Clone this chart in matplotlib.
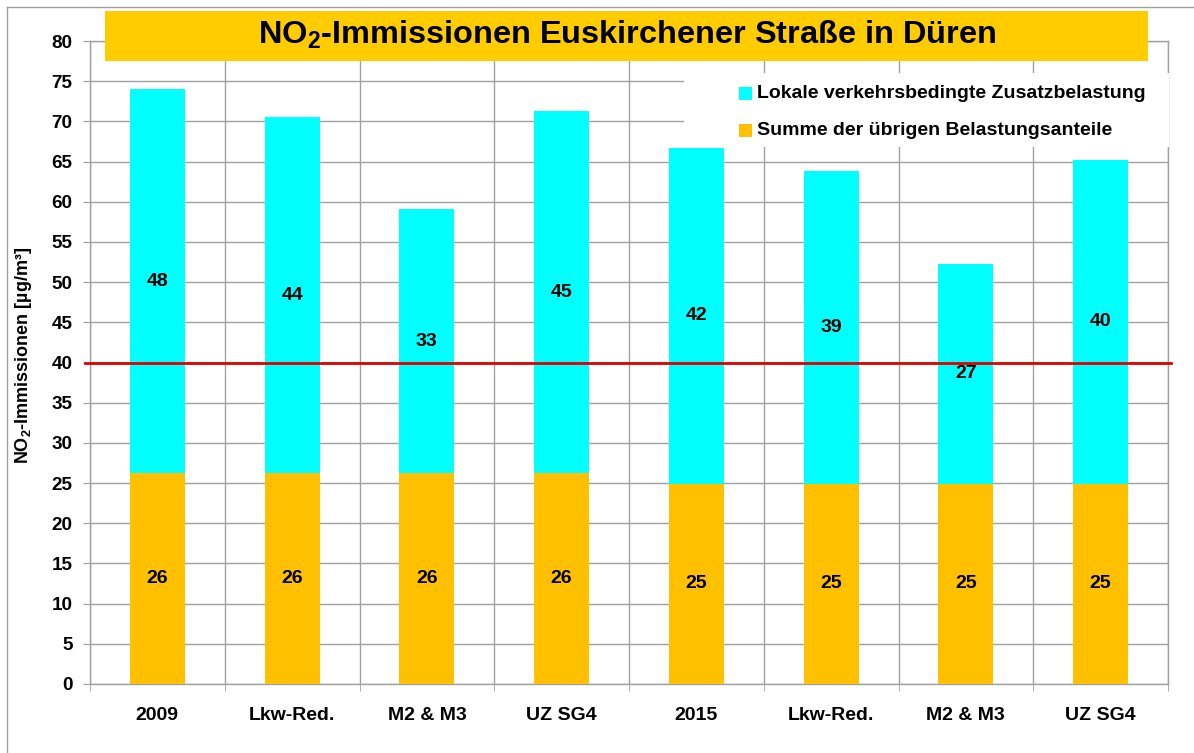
"""NO2 immissions at Euskirchener Strasse in Dueren: stacked bar chart."""

import matplotlib

matplotlib.use("Agg")

import matplotlib.pyplot as plt
import numpy as np
from matplotlib.lines import Line2D
from matplotlib.patches import Rectangle

plt.rcParams["font.family"] = ["Liberation Sans", "DejaVu Sans"]
plt.rcParams["mathtext.fontset"] = "custom"
plt.rcParams["mathtext.rm"] = "Liberation Sans"
plt.rcParams["mathtext.bf"] = "Liberation Sans:bold"

CATEGORIES = ["2009", "Lkw-Red.", "M2 & M3", "UZ SG4", "2015", "Lkw-Red.", "M2 & M3", "UZ SG4"]
BACKGROUND = [26.2, 26.2, 26.2, 26.2, 24.9, 24.9, 24.9, 24.9]
TOTAL = [74.0, 70.5, 59.1, 71.3, 66.7, 63.8, 52.3, 65.2]
LIMIT = 40

LABEL_TRAFFIC = "Lokale verkehrsbedingte Zusatzbelastung"
LABEL_REST = "Summe der übrigen Belastungsanteile"

CYAN = "#00FFFF"
ORANGE = "#FFC000"
TITLE_BG = "#FFCC00"
GRID = "#A0A0A0"

W, H = 1194, 753


def fx(x):
    return x / W


def fy(y):
    return 1 - y / H


background = np.array(BACKGROUND)
traffic = np.array(TOTAL) - background
x = np.arange(len(CATEGORIES))

fig = plt.figure(figsize=(W / 100, H / 100), dpi=100)
ax = fig.add_axes([fx(90), fy(684), fx(1168 - 90), (684 - 41) / H])

width = 0.41
ax.bar(x, background, width, color=ORANGE, zorder=3)
ax.bar(x, traffic, width, bottom=background, color=CYAN, zorder=3)

for i in range(len(x)):
    ax.text(x[i], background[i] / 2, "{:.0f}".format(background[i]),
            ha="center", va="center", fontsize=14, fontweight="bold", zorder=4)
    ax.text(x[i], background[i] + traffic[i] / 2, "{:.0f}".format(traffic[i]),
            ha="center", va="center", fontsize=14, fontweight="bold", zorder=4)

ax.axhline(LIMIT, xmin=-0.005, xmax=1.003, color="#E00000", linewidth=2.0,
           zorder=5, clip_on=False)

ax.set_xlim(-0.5, len(x) - 0.5)
ax.set_ylim(0, 80)
ax.set_yticks(np.arange(0, 81, 5))
ax.set_xticks(x)
ax.set_xticklabels(CATEGORIES, fontsize=14, fontweight="bold")
ax.set_xticks(np.arange(-0.5, len(x)), minor=True)
ax.tick_params(axis="x", which="major", length=0, pad=16.5)
ax.tick_params(axis="x", which="minor", length=5, color=GRID, direction="out")
ax.tick_params(axis="y", length=5, color=GRID, pad=7.5, labelsize=13.6)
for lab in ax.get_yticklabels():
    lab.set_fontweight("bold")

ax.grid(axis="y", which="major", color=GRID, linewidth=1, zorder=0)
ax.grid(axis="x", which="minor", color=GRID, linewidth=1, zorder=0)
for spine in ax.spines.values():
    spine.set_color(GRID)
    spine.set_linewidth(1)

fig.text(fx(24), fy(355), "NO$_\\mathbf{2}$-Immissionen [µg/m³]", rotation=90,
         ha="center", va="center", fontsize=13, fontweight="bold")

# title banner
fig.patches.append(Rectangle((fx(105), fy(61)), fx(1148 - 105), (61 - 11) / H,
                             transform=fig.transFigure, facecolor=TITLE_BG,
                             edgecolor="none", zorder=6))
fig.text(fx(627), fy(35), "NO$_\\mathbf{2}$-Immissionen Euskirchener Straße in Düren",
         ha="center", va="center", fontsize=23.4, fontweight="bold", zorder=7)

# legend
fig.patches.append(Rectangle((fx(684), fy(147)), fx(1169 - 684), (147 - 73) / H,
                             transform=fig.transFigure, facecolor="white",
                             edgecolor="none", zorder=6))
for ytop, color, label in [(87, CYAN, LABEL_TRAFFIC), (124, ORANGE, LABEL_REST)]:
    fig.patches.append(Rectangle((fx(739), fy(ytop + 13)), fx(13), 13 / H,
                                 transform=fig.transFigure, facecolor=color,
                                 edgecolor="none", zorder=7))
    fig.text(fx(757), fy(ytop + 6.5), label, ha="left", va="center",
             fontsize=14, fontweight="bold", zorder=7)

# outer chart border
fig.add_artist(Line2D([fx(7), fx(7)], [0, fy(7)], color=GRID, linewidth=1))
fig.add_artist(Line2D([fx(7), 1], [fy(7), fy(7)], color=GRID, linewidth=1))

fig.savefig("out.png", dpi=100)
